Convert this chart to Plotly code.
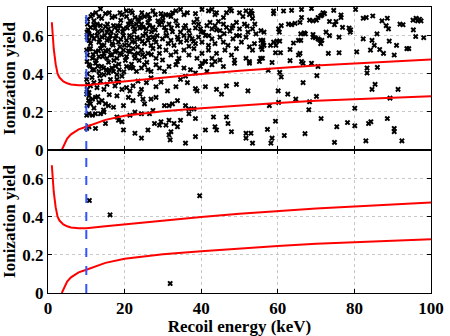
import plotly.graph_objects as go
from plotly.subplots import make_subplots

# ---------------- data ----------------
threshold_kev = 10

# upper band curve
upper_x = [1.0, 1.5, 2.0, 2.5, 3.0, 4.0, 5.0, 6.0, 8.0, 10.0, 15.0, 20.0, 30.0, 40.0, 50.0, 60.0, 70.0, 80.0, 90.0, 100.0]
upper_y = [0.67, 0.53, 0.45, 0.40, 0.38, 0.36, 0.35, 0.344, 0.34, 0.34, 0.35, 0.36, 0.38, 0.398, 0.415, 0.43, 0.443, 0.454, 0.464, 0.474]

# lower band curve
lower_x = [3.6, 4.0, 5.0, 6.0, 7.0, 8.0, 10.0, 15.0, 20.0, 30.0, 40.0, 50.0, 60.0, 70.0, 80.0, 90.0, 100.0]
lower_y = [0.0, 0.02, 0.06, 0.082, 0.097, 0.108, 0.122, 0.158, 0.18, 0.203, 0.219, 0.234, 0.247, 0.258, 0.267, 0.275, 0.282]

# top panel events (energy keV, ionization yield)
top_pts = [
 (13.7,0.74),(15.0,0.715),(16.7,0.695),(13.3,0.70),(18.8,0.72),(19.3,0.71),(20.5,0.73),(21.6,0.73),(22.7,0.695),(23.5,0.686),
 (24.2,0.695),(25.2,0.70),(26.1,0.71),(27.4,0.73),(29.5,0.715),(29.9,0.70),(30.8,0.71),(31.4,0.708),(32.1,0.70),(32.5,0.72),
 (33.4,0.73),(34.6,0.737),(35.5,0.71),(36.4,0.72),(38.5,0.715),(38.9,0.686),(40.2,0.737),(41.9,0.73),(42.8,0.737),(43.6,0.71),
 (44.0,0.72),(45.8,0.695),(46.6,0.72),(47.5,0.74),(47.9,0.73),(50.0,0.72),(50.9,0.70),(51.7,0.73),(52.6,0.71),(53.0,0.73),
 (53.3,0.715),(53.4,0.69),(10.3,0.686),(11.6,0.71),(12.0,0.677),
 (10.3,0.66),(11.1,0.643),(12.0,0.657),(12.8,0.66),(13.7,0.652),(14.1,0.626),(15.0,0.647),(15.4,0.618),(15.8,0.635),(17.1,0.652),
 (17.5,0.643),(18.2,0.626),(18.8,0.652),(19.7,0.635),(21.0,0.66),(21.4,0.677),(21.8,0.669),(22.2,0.647),(22.7,0.635),(23.1,0.66),
 (23.7,0.674),(24.4,0.66),(24.8,0.643),(25.7,0.635),(26.1,0.669),(26.5,0.652),(27.4,0.643),(28.0,0.63),(28.7,0.677),(29.1,0.657),
 (29.7,0.669),(30.4,0.643),(30.8,0.626),(31.6,0.66),(32.2,0.64),(33.4,0.677),(33.8,0.652),(34.6,0.618),(35.9,0.652),(36.8,0.626),
 (38.1,0.669),(38.5,0.64),(39.3,0.66),(39.8,0.635),(40.6,0.618),(41.5,0.652),(42.3,0.669),(42.8,0.635),(43.6,0.652),(44.5,0.674),
 (44.9,0.626),(45.8,0.66),(46.6,0.643),(47.5,0.623),(48.3,0.652),(49.2,0.669),(50.0,0.635),(51.3,0.66),(52.2,0.618),(53.4,0.635),
 (54.3,0.609),(55.6,0.626),(56.4,0.618),(10.2,0.618),(10.7,0.609),
 (10.2,0.592),(10.7,0.575),(11.1,0.558),(12.0,0.583),(12.8,0.60),(13.3,0.566),(14.1,0.592),(14.6,0.549),(15.4,0.575),(16.3,0.60),
 (16.7,0.558),(17.5,0.583),(18.4,0.566),(18.8,0.541),(19.7,0.60),(20.5,0.575),(21.1,0.549),(21.8,0.592),(22.7,0.566),(23.4,0.541),
 (24.0,0.583),(24.8,0.60),(25.2,0.558),(26.1,0.575),(26.9,0.549),(27.4,0.592),(28.2,0.566),(29.1,0.541),(29.9,0.583),(30.8,0.60),
 (31.4,0.558),(32.1,0.575),(32.9,0.549),(33.8,0.592),(34.6,0.566),(35.5,0.60),(36.2,0.575),(36.8,0.544),(37.6,0.583),(38.5,0.558),
 (39.3,0.592),(40.2,0.566),(41.1,0.60),(41.9,0.549),(42.8,0.583),(43.6,0.558),(44.9,0.592),(45.8,0.566),(47.0,0.549),(48.3,0.583),
 (49.2,0.60),(50.5,0.566),(51.7,0.592),(52.6,0.541),(53.9,0.558),(55.6,0.575),(56.4,0.549),
 (10.1,0.524),(10.3,0.498),(11.1,0.532),(11.6,0.481),(12.4,0.515),(13.3,0.49),(13.7,0.532),(14.6,0.507),(15.4,0.481),(15.8,0.524),
 (16.7,0.498),(17.5,0.515),(18.0,0.481),(18.8,0.507),(19.7,0.524),(20.5,0.49),(21.4,0.515),(22.2,0.532),(22.7,0.481),(23.5,0.507),
 (24.4,0.524),(25.2,0.49),(26.1,0.507),(27.4,0.532),(28.2,0.481),(29.1,0.507),(29.9,0.472),(30.8,0.524),(32.1,0.498),(33.4,0.515),
 (34.2,0.481),(35.5,0.524),(36.8,0.498),(38.1,0.532),(38.9,0.481),(40.2,0.507),(41.1,0.464),(41.9,0.524),(42.8,0.481),(44.0,0.507),
 (44.9,0.472),(46.2,0.524),(47.9,0.498),(48.7,0.455),(49.2,0.532),(51.7,0.481),(52.6,0.464),(53.4,0.524),(55.6,0.541),(56.0,0.481),
 (10.2,0.464),(10.7,0.447),(11.6,0.421),(12.4,0.455),(13.3,0.412),(14.0,0.438),(14.6,0.395),(15.2,0.421),(15.8,0.404),(16.7,0.43),
 (17.1,0.412),(18.0,0.395),(18.6,0.421),(19.3,0.387),(20.5,0.438),(22.2,0.43),(23.1,0.412),(24.4,0.43),(25.2,0.447),(26.1,0.421),
 (26.9,0.412),(28.2,0.447),(29.1,0.43),(30.4,0.412),(31.6,0.438),(33.4,0.447),(33.8,0.464),(35.5,0.43),(37.2,0.421),(38.5,0.404),
 (39.8,0.438),(40.2,0.455),(41.1,0.464),(41.5,0.412),(42.8,0.447),(43.6,0.464),(45.8,0.438),(48.7,0.472),(52.6,0.455),(55.2,0.464),
 (10.1,0.37),(10.3,0.344),(11.1,0.336),(12.0,0.353),(12.8,0.327),(13.7,0.361),(14.6,0.318),(15.4,0.344),(16.3,0.37),(17.5,0.336),
 (18.4,0.356),(19.3,0.318),(20.5,0.327),(21.4,0.31),(22.2,0.336),(23.5,0.361),(24.4,0.318),(25.7,0.353),(26.9,0.378),(28.2,0.332),
 (29.5,0.356),(31.2,0.31),(33.4,0.332),(34.6,0.37),(35.9,0.387),(36.4,0.353),(38.5,0.322),(38.9,0.31),(41.1,0.332),(44.0,0.318),
 (45.3,0.293),(46.6,0.336),(49.2,0.344),(52.2,0.31),(10.2,0.318),(10.7,0.301),
 (10.1,0.293),(10.7,0.284),(11.6,0.267),(12.4,0.276),(13.3,0.25),(14.1,0.259),(15.0,0.242),(15.8,0.233),(17.1,0.224),(18.0,0.284),
 (19.7,0.233),(21.0,0.276),(22.2,0.259),(24.0,0.293),(24.8,0.267),(25.2,0.242),(26.9,0.267),(28.2,0.276),(30.4,0.233),(31.6,0.233),
 (32.5,0.242),(33.8,0.259),(35.9,0.233),(36.8,0.216),(38.1,0.216),(10.2,0.233),(11.1,0.242),
 (10.1,0.182),(10.7,0.19),(11.6,0.182),(12.4,0.19),(13.7,0.19),(14.6,0.199),(18.0,0.173),(19.3,0.148),(21.4,0.182),(22.7,0.199),
 (24.4,0.19),(26.5,0.19),(27.4,0.207),(29.5,0.148),(30.8,0.13),(31.6,0.156),(32.9,0.139),(34.6,0.156),(36.8,0.19),(38.5,0.165),
 (43.2,0.173),(46.6,0.173),(47.0,0.139),
 (10.1,0.113),(10.7,0.122),(12.4,0.113),(15.0,0.139),(18.4,0.156),(19.7,0.105),(22.7,0.088),(24.4,0.062),(26.1,0.105),(27.8,0.139),
 (29.1,0.13),(32.1,0.096),(31.6,0.079),(31.9,0.053),(33.8,0.122),(35.9,0.036),(38.5,0.07),(41.1,0.105),(43.6,0.122),(44.0,0.105),
 (47.9,0.096),(51.7,0.088),(53.0,0.088),(53.4,0.036),(51.7,0.062),
 (58.9,0.729),(58.9,0.715),(61.5,0.729),(63.6,0.732),(66.2,0.737),(68.8,0.742),(71.8,0.72),(74.6,0.732),(76.5,0.708),(76.5,0.695),
 (80.3,0.737),(82.3,0.691),(83.1,0.695),(84.8,0.703),(88.6,0.691),(87.2,0.677),(95.3,0.681),(96.1,0.691),(97.0,0.686),(95.4,0.63),
 (97.4,0.677),(96.5,0.677),(60.9,0.652),(60.2,0.635),(60.4,0.618),(62.8,0.66),(63.6,0.657),(64.5,0.664),(65.8,0.669),(66.2,0.695),
 (68.3,0.681),(69.2,0.677),(70.1,0.681),(70.5,0.695),(71.2,0.703),(71.5,0.708),(72.2,0.715),(73.5,0.674),(75.2,0.674),(74.8,0.657),
 (76.9,0.643),(78.6,0.64),(79.0,0.63),(78.9,0.618),(85.9,0.609),(88.3,0.652),(88.9,0.635),(91.9,0.66),(92.7,0.657),(96.0,0.595),
 (98.1,0.589),(93.7,0.532),(56.1,0.575),(56.1,0.563),(55.9,0.527),(58.1,0.549),(58.9,0.566),(59.8,0.571),(60.5,0.571),(59.5,0.549),
 (59.4,0.51),(60.7,0.51),(63.2,0.527),(64.1,0.561),(65.4,0.575),(66.0,0.575),(66.0,0.609),(66.9,0.614),(67.2,0.609),(69.2,0.606),
 (69.2,0.592),(69.8,0.589),(70.5,0.583),(70.9,0.578),(71.5,0.575),(71.2,0.558),(72.6,0.618),(73.5,0.60),(73.2,0.507),(76.0,0.592),
 (76.0,0.51),(80.6,0.515),(82.3,0.583),(84.2,0.524),(84.6,0.575),(85.2,0.549),(86.6,0.527),(87.6,0.507),(89.1,0.571),(90.4,0.498),
 (91.0,0.549),(94.2,0.532),(55.5,0.481),(58.5,0.459),(63.2,0.469),(65.8,0.507),(65.4,0.498),(66.2,0.464),(66.6,0.455),(68.8,0.455),
 (70.5,0.438),(57.5,0.418),(60.5,0.407),(60.9,0.383),(66.6,0.353),(70.2,0.39),(83.3,0.43),(83.3,0.404),(86.0,0.433),(85.4,0.344),
 (84.6,0.318),(91.4,0.318),(60.1,0.31),(62.6,0.293),(64.7,0.267),(57.8,0.233),(60.2,0.25),(68.3,0.253),(68.1,0.211),(70.1,0.281),
 (80.1,0.219),(89.3,0.272),(59.4,0.151),(71.3,0.165),(78.2,0.144),(75.4,0.122),(80.1,0.127),(83.7,0.139),(84.3,0.148),(88.6,0.165),
 (57.3,0.108),(58.5,0.062),(58.2,0.036),(61.7,0.076),(67.1,0.086),(74.8,0.04),(83.0,0.048),(90.4,0.113),(90.4,0.096),(92.4,0.048),
 (10.5,0.63),(11.5,0.60),(12.3,0.64),(13.0,0.62),(13.5,0.58),(14.0,0.55),(14.8,0.60),(15.5,0.66),(16.0,0.58),(16.5,0.62),
 (17.0,0.55),(17.8,0.60),(18.3,0.65),(19.0,0.58),(19.5,0.62),(20.0,0.55),(20.7,0.64),(21.3,0.60),(22.0,0.57),(22.5,0.62),
 (23.2,0.59),(24.0,0.64),(24.6,0.57),(25.5,0.61),(26.3,0.59),(27.0,0.62),(27.8,0.58),(28.5,0.60),
 (10.8,0.53),(11.8,0.50),(12.6,0.47),(13.2,0.52),(14.3,0.49),(15.0,0.52),(15.8,0.46),(16.3,0.50),(17.2,0.47),(17.9,0.52),
 (18.5,0.45),(19.2,0.50),(20.2,0.47),(21.0,0.52),(21.8,0.45),(22.5,0.50),(23.8,0.47),(24.7,0.50),(25.8,0.46),(27.0,0.50),
 (11.0,0.44),(12.0,0.42),(13.0,0.44),(14.5,0.43),(16.0,0.42),(17.6,0.44),(19.8,0.41),(21.5,0.43),
 (11.2,0.70),(12.5,0.72),(14.0,0.69),(16.0,0.72),(17.5,0.70),(19.0,0.68),(20.5,0.70),(22.0,0.72),(24.5,0.72),(26.5,0.69),
 (28.0,0.71),(30.0,0.68),
 (31.0,0.60),(32.5,0.62),(34.0,0.58),(35.5,0.64),(37.0,0.60),(38.0,0.57),(40.0,0.62),(42.0,0.60),(44.0,0.63),(46.0,0.61),
 (48.0,0.64),(50.0,0.60),(52.0,0.65),(54.0,0.66),
 (10.3,0.40),(11.5,0.38),(13.5,0.39),(18.0,0.37),(10.6,0.26),(13.0,0.28),(16.0,0.29),(12.0,0.22),(14.5,0.21),
]
top_x = [p[0] for p in top_pts]
top_y = [p[1] for p in top_pts]

# bottom panel events
bot_x = [10.8, 16.2, 39.6, 31.9]
bot_y = [0.485, 0.41, 0.51, 0.05]

x_ticks = [0, 20, 40, 60, 80, 100]
y_ticks = [0, 0.2, 0.4, 0.6]
y_ticktext = ["0", "0.2", "0.4", "0.6"]

# ---------------- figure ----------------
fig = make_subplots(rows=2, cols=1, shared_xaxes=True, vertical_spacing=0)

marker = dict(symbol="x", size=5, color="black", line=dict(width=0))
for row, (ex, ey) in enumerate([(top_x, top_y), (bot_x, bot_y)], start=1):
    fig.add_trace(go.Scatter(x=ex, y=ey, mode="markers", marker=marker, hoverinfo="skip"), row=row, col=1)
    fig.add_trace(go.Scatter(x=upper_x, y=upper_y, mode="lines", line=dict(color="#ff0000", width=2)), row=row, col=1)
    fig.add_trace(go.Scatter(x=lower_x, y=lower_y, mode="lines", line=dict(color="#ff0000", width=2)), row=row, col=1)
    fig.add_trace(go.Scatter(x=[threshold_kev, threshold_kev], y=[0, 0.75], mode="lines",
                             line=dict(color="#3355ff", width=2, dash="dash")), row=row, col=1)

font = dict(family="Liberation Serif", size=17, color="black", weight="bold")
axis_common = dict(showline=True, linecolor="black", linewidth=1, mirror="ticks",
                   ticks="inside", ticklen=4, tickcolor="black",
                   showgrid=True, gridcolor="#c8c8c8", griddash="dot", gridwidth=1,
                   zeroline=False, tickfont=font)

for r in (1, 2):
    fig.update_xaxes(range=[0, 100], tickvals=x_ticks, **axis_common, row=r, col=1)
    fig.update_yaxes(range=[0, 0.75], tickvals=y_ticks, ticktext=y_ticktext,
                     title=dict(text="Ionization yield", font=font, standoff=4), **axis_common, row=r, col=1)
fig.update_xaxes(showticklabels=False, row=1, col=1)
fig.update_xaxes(title=dict(text="Recoil energy (keV)", font=font, standoff=0), row=2, col=1)

fig.update_layout(
    width=450, height=336,
    margin=dict(l=45, r=15, t=6, b=38),
    showlegend=False,
    plot_bgcolor="white", paper_bgcolor="white",
    font=font,
)

fig.write_html("out.html", config={"displayModeBar": False},
               post_script="document.body.style.margin='0';")
